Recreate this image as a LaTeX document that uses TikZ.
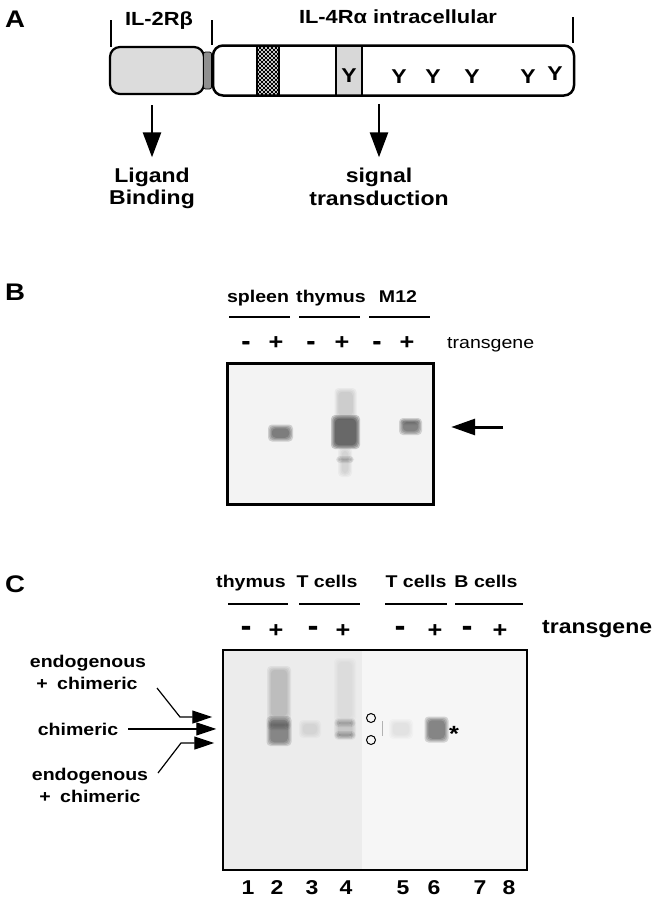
\documentclass[tikz,border=0pt]{standalone}
\usepackage{fontspec}
\setmainfont[FakeStretch=1.15]{Liberation Sans}
\usetikzlibrary{arrows.meta}
\definecolor{ltgray}{HTML}{DCDCDC}
\definecolor{midgray}{HTML}{8F8F8F}
\definecolor{yboxc}{HTML}{D8D8D8}
\definecolor{gelbg}{HTML}{F3F3F3}
\definecolor{gelcl}{HTML}{ECECEC}
\definecolor{gelcr}{HTML}{F6F6F6}
\newcommand{\fsz}[1]{\fontsize{#1}{#1}\selectfont}
% soft gel band: name, x, y, width, height, layer opacity
\newcommand{\gelblob}[6]{%
  \foreach \i in {0,1,2,3} {%
    \node[inner sep=0pt, fill=black, fill opacity=#6, rounded corners=4pt,
          minimum width={#4-2.5*\i}, minimum height={#5-2.5*\i}] (#1\i) at (#2,#3) {};
  }%
}
\begin{document}
\begin{tikzpicture}[x=1pt,y=-1pt,
  txt/.style={inner sep=0pt, anchor=base},
  bf/.style={txt, font=\bfseries\fsz{#1}},
  bfm/.style={txt, font=\bfseries\fsz{#1}\addfontfeature{FakeBold=2.5}},
  rg/.style={txt, font=\fsz{#1}},
  panel/.style={inner sep=0pt, anchor=base west, font=\bfseries\fsz{24}},
  tickline/.style={line width=1.8pt},
  hline/.style={line width=2.4pt},
  arrA/.style={line width=2.6pt, -{Triangle[length=25pt,width=18pt]}},
  arrB/.style={line width=3pt, -{Triangle[length=24pt,width=16pt]}},
  arrC/.style={line width=1.2pt, -{Triangle[length=20pt,width=13pt]}},
]
\useasboundingbox (0,0) rectangle (655,900);

% ---------------- Panel A ----------------
\node[panel] (pA) at (5,27) {A};
\node[bf=19] (t2r) at (159,25) {IL-2Rβ};
\node[bf=19] (t4r) at (398,23) {IL-4Rα intracellular};
\draw[tickline] (111,20) -- (111,47);
\draw[tickline] (212,20) -- (212,45);
\draw[tickline] (573,17) -- (573,43);

\node[draw, line width=2.2pt, fill=ltgray, rounded corners=10pt, minimum width=94pt, minimum height=47pt, inner sep=0pt] (l2box) at (157,70.5) {};
\node[draw, line width=0.8pt, fill=midgray, rounded corners=2pt, minimum width=8pt, minimum height=37pt, inner sep=0pt] (tm) at (207.5,70.5) {};

\begin{scope}
  \clip (257,45) rectangle (279,95);
  \fill[white] (257,45) rectangle (279,95);
  \foreach \k in {-52,-48,...,24} {
    \draw[line width=1.05pt] (257+\k,45) -- (307+\k,95);
    \draw[line width=1.05pt] (257+\k,95) -- (307+\k,45);
  }
\end{scope}
\draw[line width=2pt] (257,45) -- (257,95);
\draw[line width=2pt] (279,45) -- (279,95);

\node[draw, line width=1.2pt, fill=yboxc, minimum width=26pt, minimum height=50pt, inner sep=0pt] (ybx) at (349,70.5) {};
\node[draw, line width=2.5pt, rounded corners=10pt, minimum width=361pt, minimum height=50pt, inner sep=0pt] (wbox) at (393.5,70.5) {};

\node[bf=20] (y1) at (349,82) {Y};
\node[bf=20] (y2) at (399,83) {Y};
\node[bf=20] (y3) at (433,83) {Y};
\node[bf=20] (y4) at (472,83) {Y};
\node[bf=20] (y5) at (528,83) {Y};
\node[bf=20] (y6) at (555,80) {Y};

\node[bf=20] (lig1) at (152,182) {Ligand};
\node[bf=20] (lig2) at (152,204) {Binding};
\node[bf=20] (sig1) at (379,182) {signal};
\node[bf=20] (sig2) at (379,205) {transduction};
\draw[arrA, shorten <=10pt, shorten >=10pt] (l2box.south -| lig1.north) -- (lig1.north);
\draw[arrA, shorten <=7pt, shorten >=10pt] (wbox.south -| sig1.north) -- (sig1.north);

% ---------------- Panel B ----------------
\node[panel] (pB) at (5,300) {B};
\node[bf=17] (bhsp) at (258,302) {spleen};
\node[bf=17] (bhth) at (331,302) {thymus};
\node[bf=17] (bhm) at (398,302) {M12};
\draw[hline] (229,317) -- (290,317);
\draw[hline] (299,317) -- (360,317);
\draw[hline] (369,317) -- (430,317);
\node[bfm=22] (bs1) at (246,348.5) {-};
\node[bf=22] (bs2) at (276,349.5) {+};
\node[bfm=22] (bs3) at (311,348.5) {-};
\node[bf=22] (bs4) at (342,349.5) {+};
\node[bfm=22] (bs5) at (377,348.5) {-};
\node[bf=22] (bs6) at (407,349.5) {+};
\node[rg=17, anchor=base west] (btg) at (447,348) {transgene};

\node[draw, line width=3pt, fill=gelbg, minimum width=206pt, minimum height=141pt, inner sep=0pt] (gelB) at (330,433.5) {};
% spleen +
\gelblob{bsp}{280.5}{433}{25}{17}{0.15}
% thymus +
\gelblob{btha}{345.5}{404}{22}{32}{0.04}
\gelblob{bthb}{345}{462}{14}{30}{0.03}
\gelblob{bthc}{345}{459.5}{18}{7}{0.08}
\gelblob{bth}{345.5}{432}{29}{34}{0.19}
% M12 +
\gelblob{bm12}{410.5}{426.5}{23}{17}{0.14}
\gelblob{bmu}{410.5}{422}{21}{6}{0.05}
\coordinate (btail) at (503,427);
\draw[arrB, shorten >=29pt] (btail) -- (bm120.east |- btail);

% ---------------- Panel C ----------------
\node[panel] (pC) at (5,592) {C};
\node[bf=17] (chth) at (251,587) {thymus};
\node[bf=17] (cht1) at (327,587) {T cells};
\node[bf=17] (cht2) at (416,587) {T cells};
\node[bf=17] (chb) at (486,587) {B cells};
\draw[hline] (228,604) -- (288,604);
\draw[hline] (299,604) -- (360,604);
\draw[hline] (385,604) -- (447,604);
\draw[hline] (455,604) -- (523,604);
\node[bfm=26] (cs1) at (246,634.5) {-};
\node[bf=22] (cs2) at (276,637.7) {+};
\node[bfm=26] (cs3) at (313,634.5) {-};
\node[bf=22] (cs4) at (343,637.7) {+};
\node[bfm=26] (cs5) at (400,634.5) {-};
\node[bf=22] (cs6) at (435,637.7) {+};
\node[bfm=26] (cs7) at (467,634.5) {-};
\node[bf=22] (cs8) at (500,637.7) {+};
\node[bf=20, anchor=base west] (ctg) at (542,633) {transgene};

\node[draw, line width=1.5pt, fill=gelcr, minimum width=304pt, minimum height=220pt, inner sep=0pt] (gelC) at (375,760) {};
\fill[gelcl] (224,651) rectangle (362,869);
% lane 2
\gelblob{c2s}{279}{693}{24}{54}{0.05}
\gelblob{c2}{279}{731}{25}{30}{0.13}
\gelblob{c2d}{279}{725}{24}{10}{0.06}
% lane 3
\gelblob{c3}{310}{729}{22}{18}{0.025}
% lane 4
\gelblob{c4s}{345}{690}{22}{64}{0.015}
\gelblob{c4}{345}{729}{22}{22}{0.04}
\gelblob{c4a}{345}{723}{21}{8}{0.06}
\gelblob{c4b}{345}{735}{21}{8}{0.07}
% lane 5
\gelblob{c5}{401}{729}{24}{20}{0.02}
% lane 6
\gelblob{c6}{436.5}{729.5}{24}{26}{0.14}
% markers
\node[circle, draw, line width=1pt, minimum size=9pt, inner sep=0pt] (o1) at (371,718) {};
\node[circle, draw, line width=1pt, minimum size=9pt, inner sep=0pt] (o2) at (371,740) {};
\draw[black!30, line width=0.8pt] (382,721) -- (382,736);
\node[bf=22] (ast) at (454,741) {*};

% side labels
\node[bf=17] (u1) at (88,667) {endogenous};
\node[bf=17] (u2) at (87,689) {+\hspace{4pt} chimeric};
\node[bf=17] (chm) at (78,735) {chimeric};
\node[bf=17] (l1) at (90,780) {endogenous};
\node[bf=17] (l2) at (90,802) {+\hspace{4pt} chimeric};
\coordinate (us) at (157,688);
\coordinate (ub) at (180,717);
\coordinate (ls) at (158,773);
\coordinate (lb) at (181,743);
\draw[arrC, shorten >=10pt] (us) -- (ub) -- (ub -| gelC.west);
\draw[arrC, shorten <=10pt, shorten >=6pt] (chm.east) -- (chm.east -| gelC.west);
\draw[arrC, shorten >=8pt] (ls) -- (lb) -- (lb -| gelC.west);

% lane numbers
\node[bf=20] (n1) at (248,894) {1};
\node[bf=20] (n2) at (277,894) {2};
\node[bf=20] (n3) at (312,894) {3};
\node[bf=20] (n4) at (346,894) {4};
\node[bf=20] (n5) at (403,894) {5};
\node[bf=20] (n6) at (434,894) {6};
\node[bf=20] (n7) at (480,894) {7};
\node[bf=20] (n8) at (509,894) {8};
\end{tikzpicture}
\end{document}
